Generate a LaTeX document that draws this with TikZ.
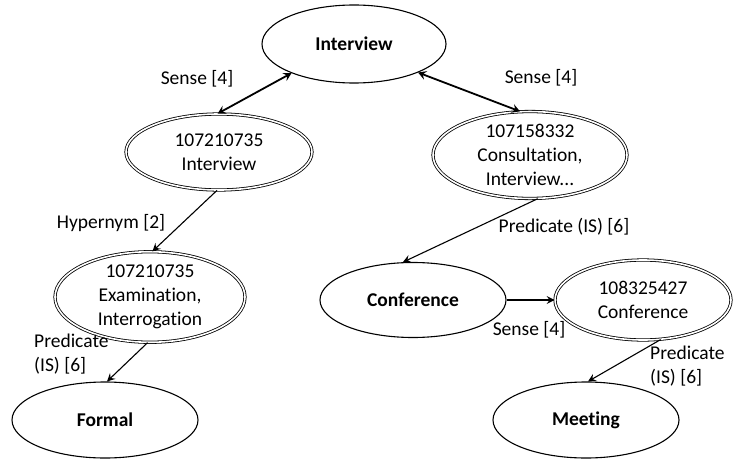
\documentclass[tikz,border=0pt]{standalone}
\usepackage{fontspec}
\setmainfont{Carlito}[Ligatures=NoCommon]
\usetikzlibrary{arrows.meta,shapes.geometric}
\tikzset{
  base/.style={font=\fontsize{19.5}{24}\selectfont, align=center, inner sep=0pt},
  term/.style={base, ellipse, draw, line width=1.1pt, font=\fontsize{19.5}{24}\selectfont\bfseries},
  syn/.style={base, ellipse, draw, line width=0.8pt, double, double distance=1.6pt},
  lbl/.style={base},
  tip/.style={-{Stealth[length=8pt,width=8pt,inset=3pt]}},
  rel/.style={tip, line width=1.1pt},
  sense/.style={{Stealth[length=8pt,width=9pt,inset=3pt]}-{Stealth[length=8pt,width=9pt,inset=3pt]}, line width=1.8pt},
}
\begin{document}
\begin{tikzpicture}[x=1pt,y=-1pt]
\useasboundingbox (0,0) rectangle (733,460);
\node[term, minimum width=184pt, minimum height=78pt] (iv) at (354,44) {Interview};
\node[syn, minimum width=186pt, minimum height=76pt] (s1) at (219,152) {107210735\\Interview};
\node[syn, minimum width=194pt, minimum height=84pt] (s2) at (530,155) {107158332\\Consultation,\\Interview...};
\node[syn, minimum width=190pt, minimum height=84pt] (s3) at (150,297) {107210735\\Examination,\\Interrogation};
\node[term, minimum width=186pt, minimum height=75pt] (conf) at (413,300) {Conference};
\node[syn, minimum width=176pt, minimum height=80pt] (s4) at (643,300) {108325427\\Conference};
\node[term, minimum width=186pt, minimum height=76pt] (formal) at (105,420) {Formal};
\node[term, minimum width=186pt, minimum height=76pt] (meet) at (586,420) {Meeting};

\draw[sense] (iv.205) -- (s1.92);
\draw[sense] (iv.336) -- (s2.103);
\draw[rel] (s1.267) -- (s3.87);
\draw[rel] (s2.280) -- (conf.105);
\draw[rel] (conf.east) -- (s4.west);
\draw[rel] (s3.267) -- (formal.87);
\draw[rel] (s4.294) -- (meet.87);

\node[lbl] (l1) at (197,79) {Sense [4]};
\node[lbl] (l2) at (541,78) {Sense [4]};
\node[lbl] (l3) at (111,223) {Hypernym [2]};
\node[lbl] (l4) at (564,227) {Predicate (IS) [6]};
\node[lbl, anchor=west, align=left] (l5) at (34,354) {Predicate\\(IS) [6]};
\node[lbl] (l6) at (529,330) {Sense [4]};
\node[lbl, anchor=west, align=left] (l7) at (650,366) {Predicate\\(IS) [6]};
\end{tikzpicture}
\end{document}
